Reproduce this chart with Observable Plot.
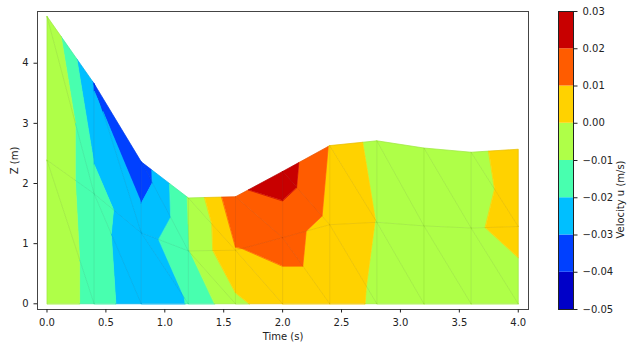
<!DOCTYPE html>
<html><head><meta charset="utf-8">
<script src="https://cdn.jsdelivr.net/npm/d3@7"></script>
<script src="https://cdn.jsdelivr.net/npm/@observablehq/plot@0.6"></script>
<style>
body{margin:0;background:#fff;}
#wrap{position:relative;width:629px;height:347px;font-family:"DejaVu Sans",sans-serif;background:#fff;}
#main{position:absolute;left:0;top:0}
#cbar{position:absolute;left:540px;top:0}
</style></head><body><div id="wrap"><div id="main"></div><div id="cbar"></div></div>
<script>
// Data (mesh columns, surface elevation, velocity at nodes)
const times   = [0, 0.4, 0.8, 1.2, 1.6, 2.0, 2.4, 2.8, 3.2, 3.6, 4.0];
const surface = [4.78, 3.66, 2.36, 1.76, 1.78, 2.2, 2.63, 2.71, 2.59, 2.52, 2.57];
const uBottom = [-0.001, -0.014, -0.027, -0.0195, -0.0025, 0.006, 0.006, -0.002, -0.005, -0.005, -0.0045];
const uMid    = [-0.001, -0.016, -0.0257, -0.0105, 0.0095, 0.013, 0.007, -0.0003, -0.004, -0.0013, 0.003];
const uTop    = [-0.001, -0.031, -0.036, -0.0095, 0.0179, 0.0255, 0.0095, -0.0041, -0.005, -0.003, 0.005];
const levels  = [-0.05, -0.04, -0.03, -0.02, -0.01, 0, 0.01, 0.02, 0.03];
const bandColors = ["#0000c8", "#0040ff", "#00bfff", "#48ffaf", "#afff48", "#ffd200", "#ff5c00", "#c80000"];
const xTicks = [0, 0.5, 1, 1.5, 2, 2.5, 3, 3.5, 4];
const yTicks = [0, 1, 2, 3, 4];

// Build nodes: bottom, mid (half depth), top (surface) per column
const nodes = [];
times.forEach((t, i) => {
  nodes.push({x: t, y: 0, v: uBottom[i]});
  nodes.push({x: t, y: surface[i] / 2, v: uMid[i]});
  nodes.push({x: t, y: surface[i], v: uTop[i]});
});
const N = (i, r) => nodes[i * 3 + r];
const tris = [];
for (let i = 0; i < times.length - 1; i++) {
  tris.push([N(i,0), N(i,1), N(i+1,0)]);
  tris.push([N(i,1), N(i+1,1), N(i+1,0)]);
  tris.push([N(i,1), N(i,2), N(i+1,1)]);
  tris.push([N(i,2), N(i+1,2), N(i+1,1)]);
}
function clip(poly, f) {
  const out = [];
  for (let k = 0; k < poly.length; k++) {
    const a = poly[k], b = poly[(k + 1) % poly.length];
    const fa = f(a.v), fb = f(b.v);
    if (fa >= 0) out.push(a);
    if ((fa >= 0) !== (fb >= 0)) {
      const s = fa / (fa - fb);
      out.push({x: a.x + s * (b.x - a.x), y: a.y + s * (b.y - a.y), v: a.v + s * (b.v - a.v)});
    }
  }
  return out;
}
const polyPts = [];
let pid = 0;
tris.forEach(tri => {
  for (let b = 0; b < levels.length - 1; b++) {
    const lo = levels[b], hi = levels[b + 1];
    let p = clip(tri, v => v - lo);
    p = clip(p, v => hi - v);
    if (p.length >= 3) {
      const mid = (lo + hi) / 2;
      p.forEach(q => polyPts.push({x: q.x, y: q.y, id: pid, band: mid}));
      pid++;
    }
  }
});
const edgeSet = new Map();
tris.forEach(tri => {
  for (let k = 0; k < 3; k++) {
    const a = tri[k], b = tri[(k + 1) % 3];
    const key = [a.x, a.y, b.x, b.y].join() < [b.x, b.y, a.x, a.y].join() ? [a.x, a.y, b.x, b.y].join() : [b.x, b.y, a.x, a.y].join();
    if (!edgeSet.has(key)) edgeSet.set(key, {x1: a.x, y1: a.y, x2: b.x, y2: b.y});
  }
});
const edges = [...edgeSet.values()];

const bands = levels.slice(0, -1).map((lo, i) => ({lo, hi: levels[i + 1], mid: (lo + levels[i + 1]) / 2}));
const colorOpts = {type: "threshold", domain: levels.slice(1, -1), range: bandColors};
const style = {fontFamily: "'DejaVu Sans', sans-serif", fontSize: "10px", color: "#222", background: "white", overflow: "visible"};

const main = Plot.plot({
  width: 545, height: 347,
  marginLeft: 37, marginRight: 17, marginTop: 11, marginBottom: 38,
  x: {domain: [-0.0806, 4.087]},
  y: {domain: [-0.095, 4.86]},
  color: colorOpts,
  style,
  marks: [
    Plot.line(polyPts, {x: "x", y: "y", z: "id", fill: "band", stroke: "band", strokeWidth: 0.7, curve: "linear-closed"}),
    Plot.link(edges, {x1: "x1", y1: "y1", x2: "x2", y2: "y2", stroke: "#000", strokeOpacity: 0.1, strokeWidth: 0.7}),
    Plot.frame({stroke: "#444"}),
    Plot.axisX(xTicks, {tickSize: 3.5, tickFormat: d3.format(".1f"), label: "Time (s)", labelAnchor: "center", labelOffset: 30, labelArrow: "none"}),
    Plot.axisY(yTicks, {tickSize: 3.5, tickFormat: d3.format("d"), label: "Z (m)", labelAnchor: "center", labelOffset: 27, labelArrow: "none"})
  ]
});
document.getElementById("main").appendChild(main);

const cbar = Plot.plot({
  width: 89, height: 347,
  marginLeft: 18, marginRight: 56, marginTop: 11, marginBottom: 38,
  x: {domain: [0, 1], axis: null},
  y: {domain: [-0.05, 0.03], axis: null},
  color: colorOpts,
  style,
  marks: [
    Plot.rect(bands, {x1: 0, x2: 1, y1: "lo", y2: "hi", fill: "mid"}),
    Plot.frame({stroke: "#222"}),
    Plot.axisY(levels, {anchor: "right", tickSize: 3.5, tickFormat: d3.format(".2f"), label: null}),
    Plot.text(["Velocity u (m/s)"], {frameAnchor: "right", dx: 47, rotate: -90, fontSize: 10, fill: "#222"})
  ]
});
document.getElementById("cbar").appendChild(cbar);
</script>
</body></html>
